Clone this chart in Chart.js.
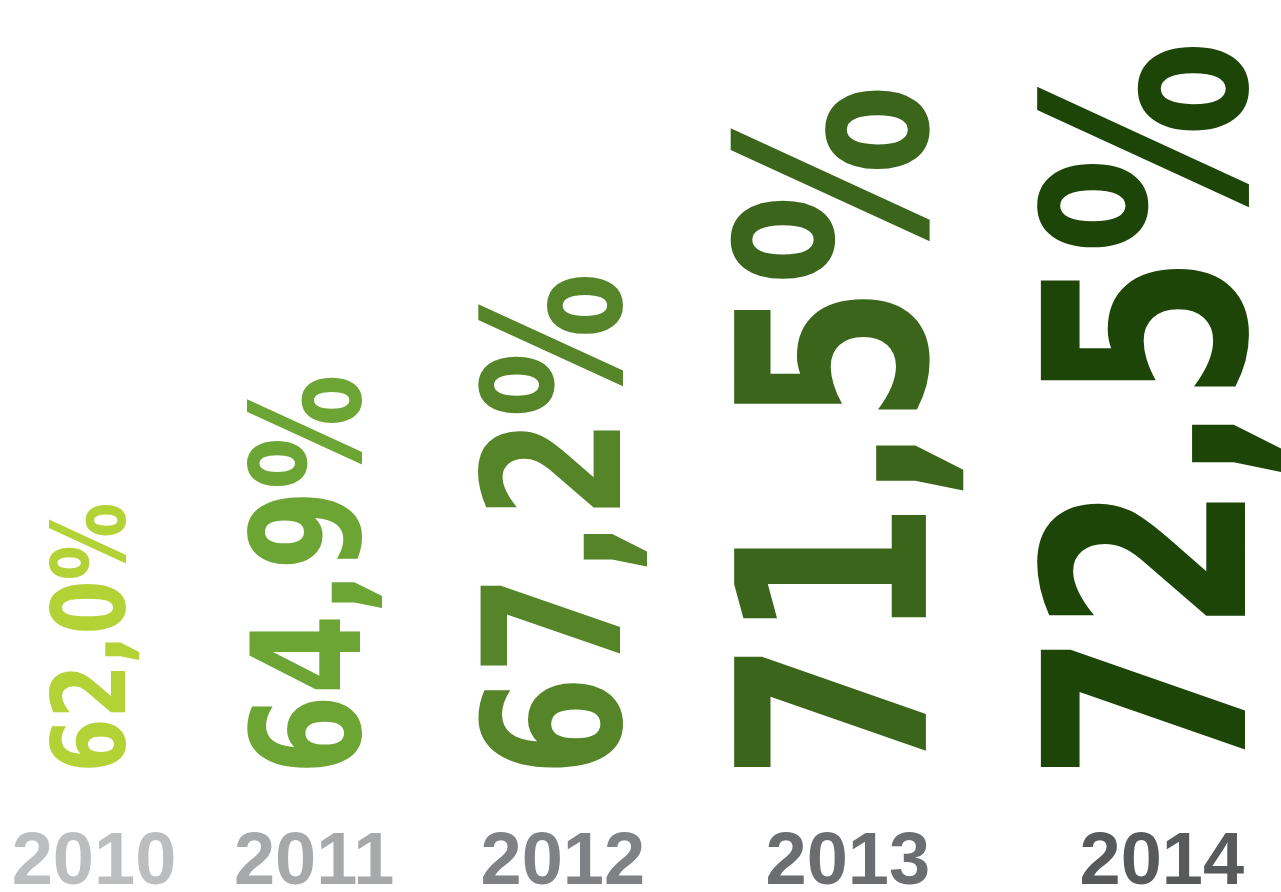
<!DOCTYPE html>
<html>
<head>
<meta charset="utf-8">
<script src="https://cdn.jsdelivr.net/npm/chart.js@4.4.1/dist/chart.umd.min.js"></script>
<style>
  html, body { margin: 0; padding: 0; background: #fff; }
  #wrap { width: 1281px; height: 892px; }
</style>
</head>
<body>
<div id="wrap"><canvas id="chart"></canvas></div>
<script>
// share by year, written the way the picture writes it
const years       = ['2010', '2011', '2012', '2013', '2014'];
const shares      = [62.0, 64.9, 67.2, 71.5, 72.5];
const shareLabels = ['62,0%', '64,9%', '67,2%', '71,5%', '72,5%'];
const shareColors = ['#b2d235', '#6ca534', '#558429', '#3c651c', '#1e4508'];
const yearColors  = ['#bcbdbf', '#a7a8aa', '#808184', '#6c6d70', '#58595b'];

const BASE = 56;     // value sitting on the baseline
const GAP  = 12.6;   // room between two columns, in value units
const VALUE_FONT = '"DejaVu Sans", sans-serif';
const YEAR_FONT  = '"Liberation Sans", Arial, sans-serif';

// columns get wider as the bars grow, so pack them side by side
const centres = [];
shares.forEach((v, i) => {
  if (i === 0) { centres.push(0); return; }
  centres.push(centres[i - 1] + (shares[i - 1] - BASE + v - BASE) / 2 + GAP);
});

// draws each value as rotated text filling its (invisible) bar
const barText = {
  id: 'barText',
  afterDatasetsDraw(chart) {
    const ctx  = chart.ctx;
    const bars = chart.getDatasetMeta(0).data;
    bars.forEach((bar, i) => {
      const h = bar.base - bar.y;
      if (h <= 0) return;
      ctx.save();
      ctx.font = `bold 100px ${VALUE_FONT}`;
      const capRatio = ctx.measureText('0').actualBoundingBoxAscent / 100;
      const size = h * 0.29 / capRatio;
      ctx.font = `bold ${size}px ${VALUE_FONT}`;
      const m   = ctx.measureText(shareLabels[i]);
      const len = m.actualBoundingBoxLeft + m.actualBoundingBoxRight;
      ctx.translate(bar.x, bar.base);
      ctx.rotate(-Math.PI / 2);
      ctx.scale(h / len, 1);
      ctx.fillStyle = shareColors[i];
      ctx.textAlign = 'left';
      ctx.textBaseline = 'alphabetic';
      ctx.fillText(shareLabels[i], m.actualBoundingBoxLeft,
        (m.actualBoundingBoxAscent - m.actualBoundingBoxDescent) / 2);
      ctx.restore();
    });
  }
};

new Chart(document.getElementById('chart').getContext('2d'), {
  type: 'bar',
  data: {
    datasets: [{
      data: shares.map((v, i) => ({x: centres[i], y: v})),
      base: BASE,
      backgroundColor: 'rgba(0,0,0,0)',
      borderWidth: 0,
    }],
  },
  options: {
    responsive: true, maintainAspectRatio: false, animation: false,
    layout: {padding: 0},
    plugins: {legend: {display: false}, tooltip: {enabled: false}},
    scales: {
      x: {
        type: 'linear', min: -8.56, max: 108.1, offset: false,
        grid: {display: false, drawTicks: false, offset: false},
        border: {display: false},
        afterBuildTicks: s => { s.ticks = centres.map(v => ({value: v})); },
        // year row sits under the baseline; keep the full width for the columns
        afterFit: s => { s.height = 124; s.paddingLeft = 0; s.paddingRight = 0; },
        ticks: {
          autoSkip: false, maxRotation: 0, padding: 64,
          callback: (v, i) => years[i],
          color: c => yearColors[c.index],
          font: {family: YEAR_FONT, size: 74, weight: 'bold', lineHeight: 0.85},
        },
      },
      y: {display: false, beginAtZero: false, min: BASE, max: 73.5},
    },
  },
  plugins: [barText],
});
</script>
</body>
</html>
